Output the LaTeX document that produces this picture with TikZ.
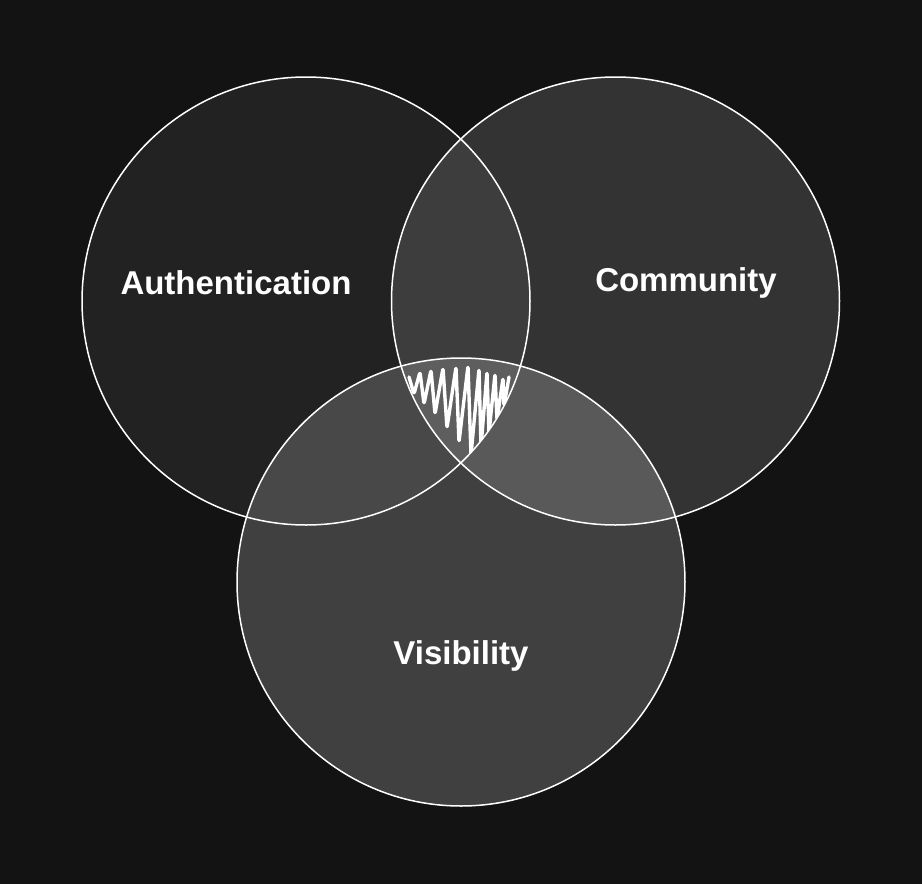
\documentclass[tikz,border=0pt]{standalone}
\usepackage{fontspec}
\setmainfont{Liberation Sans}
\definecolor{bg}{HTML}{131313}
\definecolor{cA}{HTML}{222222}
\definecolor{cC}{HTML}{333333}
\definecolor{cV}{HTML}{404040}
\definecolor{cAC}{HTML}{3D3D3D}
\definecolor{cAV}{HTML}{484848}
\definecolor{cCV}{HTML}{595959}
\definecolor{cACV}{HTML}{5E5E5E}
\tikzset{
  ring/.style={draw=white, line width=1.5pt},
  lbl/.style={text=white, font=\fontsize{33}{38}\selectfont\bfseries},
}
\begin{document}
\begin{tikzpicture}[x=1pt,y=-1pt]
\fill[bg] (0,0) rectangle (922,884);
\useasboundingbox (0,0) rectangle (922,884);
\def\pA{(306,301) circle[radius=224]}
\def\pC{(615.5,301) circle[radius=224]}
\def\pV{(461,582) circle[radius=224]}
% single fills
\fill[cA] \pA;
\fill[cC] \pC;
\fill[cV] \pV;
% pairwise
\begin{scope}\clip \pA; \fill[cAC] \pC; \end{scope}
\begin{scope}\clip \pA; \fill[cAV] \pV; \end{scope}
\begin{scope}\clip \pC; \fill[cCV] \pV; \end{scope}
% triple with scribble
\begin{scope}
\clip \pA; \clip \pC; \clip \pV;
\fill[cACV] (380,340) rectangle (540,470);
\draw[white, line width=3.4pt, line join=round, line cap=round, rounded corners=2.5pt]
 (409,377) -- (414,394) -- (420,372) -- (424,404) -- (431,370) -- (435,414)
 -- (443,368) -- (447,428) -- (456,367) -- (459,442) -- (468,366) -- (471,455)
 -- (479,369) -- (481,447) -- (487,372) -- (489,433) -- (495,374) -- (497,420)
 -- (503,378) -- (504,406) -- (509,377);
\end{scope}
% outlines
\node[ring, circle, minimum size=448pt, inner sep=0pt] (A) at (306,301) {};
\node[ring, circle, minimum size=448pt, inner sep=0pt] (C) at (615.5,301) {};
\node[ring, circle, minimum size=448pt, inner sep=0pt] (V) at (461,582) {};
\node[lbl] (tA) at (236,283) {Authentication};
\node[lbl] (tC) at (686,283) {Community};
\node[lbl] (tV) at (461,656) {Visibility};
\end{tikzpicture}
\end{document}
